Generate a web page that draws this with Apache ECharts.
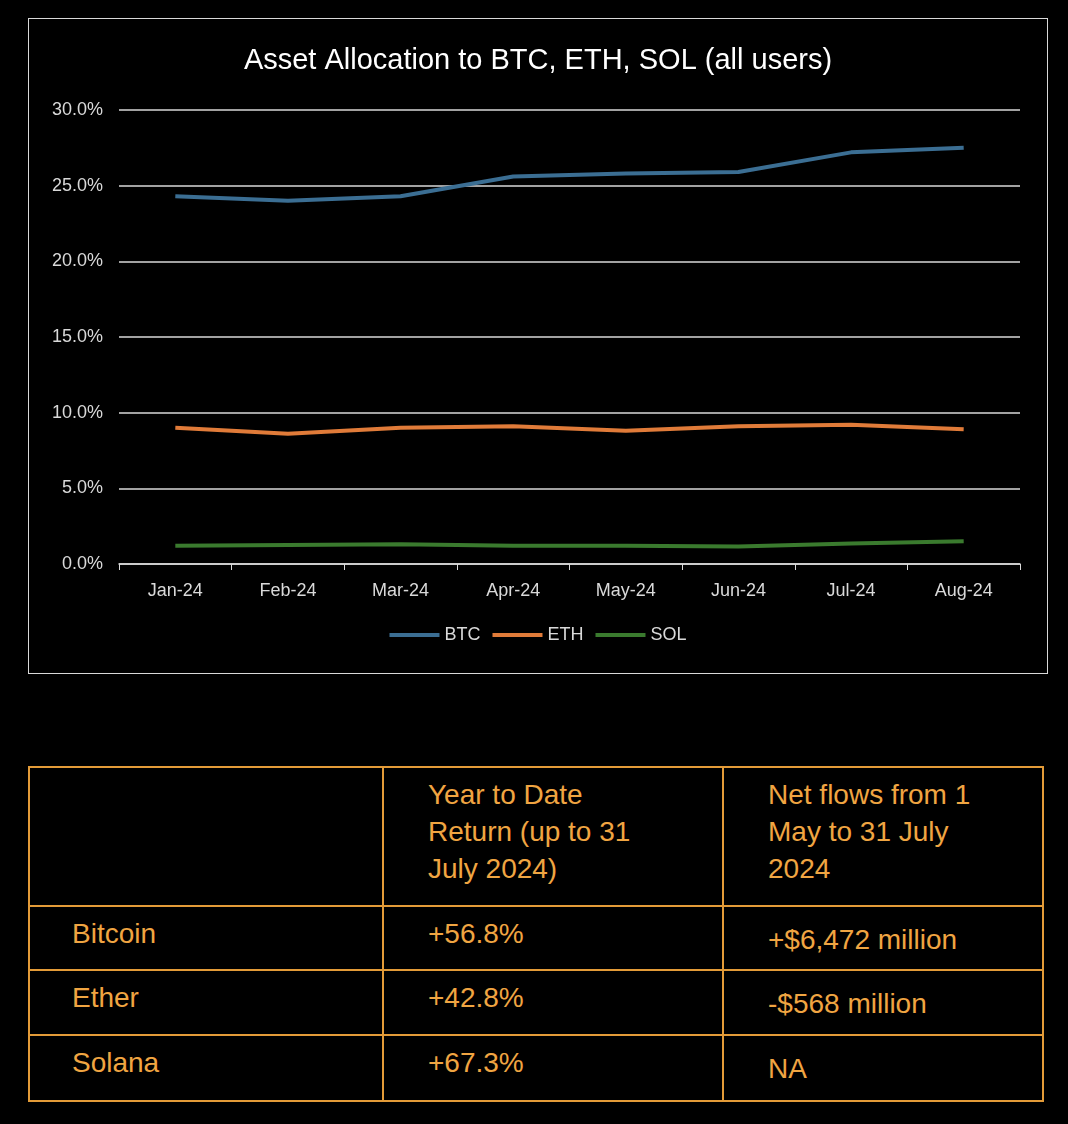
<!DOCTYPE html>
<html>
<head>
<meta charset="utf-8">
<script src="https://cdn.jsdelivr.net/npm/echarts@6/dist/echarts.min.js"></script>
<style>
  body { margin: 0; background: #000; width: 1068px; height: 1124px; position: relative; font-family: "Liberation Sans", Arial, sans-serif; }
  #chart { position: absolute; left: 28px; top: 18px; width: 1018px; height: 654px; border: 1px solid #d9d9d9; }
  table { position: absolute; left: 28px; top: 766px; width: 1016px; border-collapse: collapse; color: #f0a542; font-size: 28px; }
  td { border: 2px solid #e39b38; vertical-align: top; padding: 8px 0 0 42px; line-height: 37px; }
  td.c2, td.c3 { padding-left: 44px; }
</style>
</head>
<body>
<div id="chart"></div>
<table>
  <tr style="height:139px"><td style="width:310px"></td><td class="c2" style="width:294px">Year to Date<br>Return (up to 31<br>July 2024)</td><td class="c3">Net flows from 1<br>May to 31 July<br>2024</td></tr>
  <tr style="height:64px"><td>Bitcoin</td><td class="c2">+56.8%</td><td class="c3" style="padding-top:14px">+$6,472 million</td></tr>
  <tr style="height:65px"><td>Ether</td><td class="c2">+42.8%</td><td class="c3" style="padding-top:14px">-$568 million</td></tr>
  <tr style="height:66px"><td>Solana</td><td class="c2">+67.3%</td><td class="c3" style="padding-top:14px">NA</td></tr>
</table>
<script>
// 数据
const months = ['Jan-24', 'Feb-24', 'Mar-24', 'Apr-24', 'May-24', 'Jun-24', 'Jul-24', 'Aug-24']
const btc = [24.3, 24.0, 24.3, 25.6, 25.8, 25.9, 27.2, 27.5]
const eth = [9.0, 8.6, 9.0, 9.1, 8.8, 9.1, 9.2, 8.9]
const sol = [1.2, 1.25, 1.3, 1.2, 1.2, 1.15, 1.35, 1.5]

const chart = echarts.init(document.getElementById('chart'))
const line = (name, data, color) => ({
  name: name, type: 'line', data: data, symbol: 'none',
  lineStyle: { width: 4, color: color }, itemStyle: { color: color }
})
chart.setOption({
  backgroundColor: '#000',
  textStyle: { fontFamily: 'Liberation Sans' },
  title: {
    text: 'Asset Allocation to BTC, ETH, SOL (all users)', left: 'center', top: 22,
    textStyle: { color: '#fff', fontSize: 29, fontWeight: 'normal' }
  },
  legend: {
    bottom: 24, itemWidth: 50, itemHeight: 4, itemGap: 12,
    icon: 'rect', textStyle: { color: '#d9d9d9', fontSize: 18 }
  },
  grid: { left: 90, right: 27, top: 91, bottom: 109 },
  xAxis: {
    type: 'category', data: months,
    axisLine: { lineStyle: { color: '#d9d9d9', width: 1.5 } },
    axisTick: { show: true, length: 6, lineStyle: { color: '#d9d9d9' } },
    axisLabel: { color: '#d9d9d9', fontSize: 18, margin: 18 }
  },
  yAxis: {
    type: 'value', min: 0, max: 30, interval: 5,
    axisLine: { show: false }, axisTick: { show: false },
    axisLabel: { color: '#d9d9d9', fontSize: 18, margin: 16, formatter: v => v.toFixed(1) + '%' },
    splitLine: { lineStyle: { color: '#d9d9d9', width: 1.5 } }
  },
  series: [
    line('BTC', btc, '#3b6e93'),
    line('ETH', eth, '#e07b39'),
    line('SOL', sol, '#3a7a2e')
  ]
})
</script>
</body>
</html>
